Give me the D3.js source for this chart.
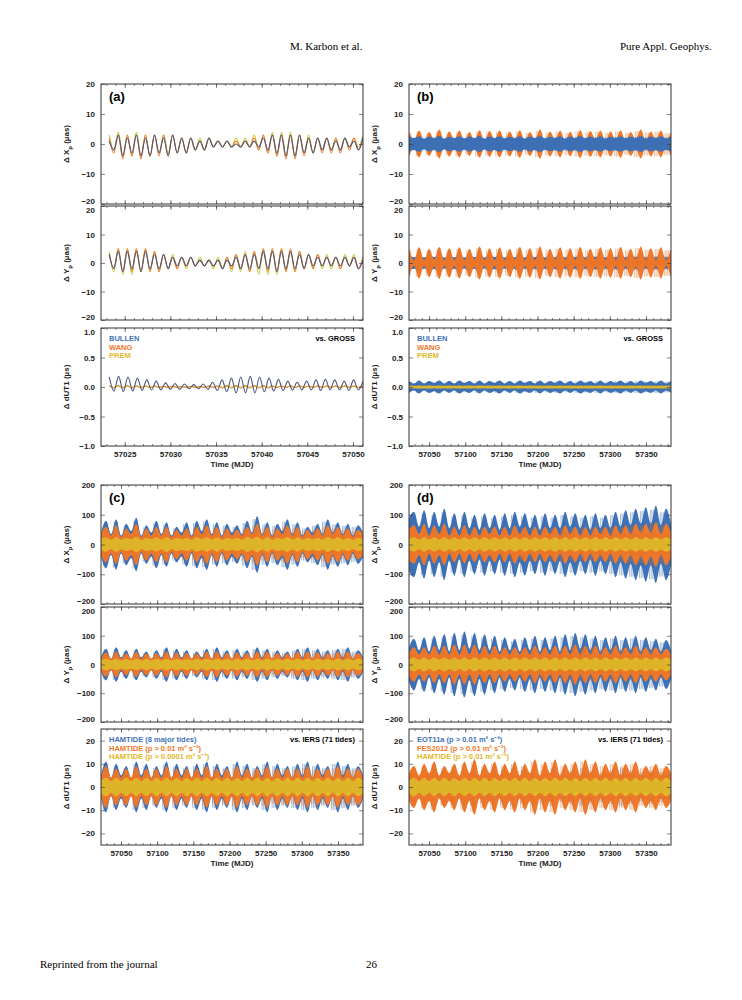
<!DOCTYPE html>
<html><head><meta charset="utf-8">
<script src="https://cdn.jsdelivr.net/npm/d3@7"></script>
<style>body{margin:0;background:#fff}text{font-family:"Liberation Sans",Arial,sans-serif}</style>
</head><body>
<script>
// ---- data ----
let seriesNames = ["BULLEN","WANG","PREM"];
let tideNamesC = ["HAMTIDE (8 major tides)","HAMTIDE (p > 0.01 m² s⁻²)","HAMTIDE (p > 0.0001 m² s⁻²)"];
let tideNamesD = ["EOT11a (p > 0.01 m² s⁻²)","FES2012 (p > 0.01 m² s⁻²)","HAMTIDE (p > 0.01 m² s⁻²)"];
let ticksA = [57025,57030,57035,57040,57045,57050];
let ticksLong = [57050,57100,57150,57200,57250,57300,57350];

// panel (a): alternating peak/trough values, evenly spaced 57023.3 .. 57051
let aXb=[1,-2,3,-4,2,-3,3,-4,2,-4,3,-3,2,-4,3,-3,2,-3,2,-2,1,-2,2,-1,1,-1,1,-1,0,-1,1,-1,1,-1,2,-2,3,-3,3,-4,3,-4,3,-3,2,-3,2,-2,2,-2,1,-2,2,-1,1,-2,2];
let aXw=[2,-3,3,-5,3,-4,3,-5,3,-4,3,-4,3,-4,3,-3,2,-3,2,-2,1,-2,2,-1,1,-1,1,-1,1,-1,1,-1,2,-2,3,-3,3,-4,3,-5,3,-5,3,-4,2,-3,2,-3,2,-3,2,-3,2,-2,2,-2,2];
let aXp=[3,-2,4,-4,3,-4,4,-4,3,-4,3,-3,3,-3,3,-3,2,-3,2,-2,2,-2,2,-1,1,-1,1,-1,2,-1,2,-1,3,-2,3,-3,4,-4,4,-4,4,-4,3,-3,3,-3,2,-2,2,-2,2,-2,2,-1,2,-1,3];
let aYb=[3,-2,4,-3,4,-2,4,-3,4,-2,3,-2,3,-2,2,-1,2,-1,2,-1,1,-1,1,-1,1,-2,1,-1,2,-2,3,-2,3,-2,4,-2,4,-3,4,-2,4,-2,3,-2,3,-1,2,-1,2,-1,2,-1,2,-1,2,-2,1];
let aYw=[3,-2,5,-3,5,-3,5,-3,5,-3,4,-3,3,-2,2,-2,2,-1,2,-1,1,-1,1,-1,1,-2,2,-2,3,-2,3,-3,4,-2,5,-3,5,-3,5,-3,5,-3,4,-2,3,-2,3,-1,2,-1,2,-2,2,-1,2,-2,2];
let aYp=[4,-3,5,-4,5,-4,5,-3,5,-3,4,-3,3,-2,3,-2,2,-2,2,-1,2,-1,1,-2,2,-2,2,-3,3,-3,4,-3,4,-4,5,-4,5,-4,5,-3,4,-3,4,-2,3,-2,3,-2,3,-2,2,-2,3,-1,3,-2,2];
let aUb=[0.17,-0.07,0.18,-0.08,0.17,-0.07,0.15,-0.06,0.12,-0.05,0.1,-0.05,0.07,-0.04,0.06,-0.04,0.05,-0.03,0.04,-0.03,0.05,-0.04,0.08,-0.06,0.12,-0.08,0.15,-0.1,0.17,-0.1,0.18,-0.1,0.17,-0.08,0.15,-0.07,0.13,-0.06,0.1,-0.05,0.08,-0.05,0.1,-0.05,0.12,-0.06,0.13,-0.05,0.12,-0.05,0.1,-0.06,0.12,-0.05,0.1];
let aUw=[0.03,-0.02,0.03,-0.02,0.03,-0.02,0.02,-0.02,0.02,-0.01,0.02,-0.01,0.01,-0.01,0.01,-0.01,0.01,-0.01,0.01,-0.01,0.01,-0.01,0.02,-0.01,0.02,-0.02,0.03,-0.02,0.03,-0.02,0.03,-0.02,0.03,-0.02,0.03,-0.02,0.02,-0.01,0.02,-0.01,0.02,-0.01,0.02,-0.01,0.02,-0.01,0.02,-0.01,0.02,-0.01,0.02,-0.01,0.02,-0.01,0.02,-0.01,0.02];
let aUp=[0.01,0,0.01,0,0.01,0,0.01,0,0.01,0,0.01,0,0.01,0,0.01,0,0.01,0,0.01,0,0.01,0,0.01,0,0.01,0,0.01,0,0.01,0,0.01,0,0.01,0,0.01,0,0.01,0,0.01,0,0.01,0,0.01,0,0.01,0,0.01,0,0.01,0,0.01,0,0.01,0,0.01,0,0.01];

// envelope half-widths, evenly spaced 57022.3 .. 57384.6
let bXblue=[2.5,2,2.6,1.8,2.5,2,2.7,1.8,2.4,2,2.6,1.9,2.5,2,2.7,1.8,2.5,2,2.6,1.9,2.4,2,2.6,1.8,2.5,2,2.7,1.9,2.4,2,2.6,1.8,2.5,2,2.7,1.9,2.5,2,2.6,1.8,2.4,2,2.6,1.9,2.5,2,2.7,1.8,2.5,2,2.6,1.9,2.5];
let bXorg=[4,1.5,4.5,1,4,1.5,4.8,1,4.2,1.5,4.5,1,4,1.2,4.6,1,4.3,1.5,4.5,1,4.2,1.4,4.6,1,4,1.5,4.8,1,4.2,1.5,4.5,1,4.1,1.3,4.7,1,4.3,1.5,4.5,1,4.2,1.4,4.6,1,4,1.5,4.8,1,4.2,1.5,4.5,1,4];
let bYblue=[2.6,2,2.8,1.9,2.6,2.1,2.8,1.9,2.5,2,2.7,1.9,2.6,2,2.8,1.9,2.6,2.1,2.7,1.9,2.5,2,2.8,1.9,2.6,2,2.8,1.9,2.5,2,2.7,1.9,2.6,2,2.8,1.9,2.6,2.1,2.7,1.9,2.5,2,2.8,1.9,2.6,2,2.8,1.9,2.5,2,2.7,1.9,2.6];
let bYorg=[5,1,5.5,1,5,1.2,5.6,1,5.2,1,5.5,1,5,1.2,5.8,1,5.2,1,5.5,1,5,1.2,5.6,1,5.2,1,5.8,1,5,1.2,5.5,1,5.2,1,5.6,1,5,1.2,5.5,1,5.2,1,5.6,1,5,1.2,5.8,1,5.2,1,5.5,1,5];
let bUblue=[0.1,0.06,0.11,0.06,0.1,0.07,0.11,0.06,0.1,0.06,0.11,0.07,0.1,0.06,0.11,0.06,0.1,0.07,0.11,0.06,0.1,0.06,0.11,0.07,0.1,0.06,0.11,0.06,0.1,0.07,0.11,0.06,0.1,0.06,0.11,0.07,0.1,0.06,0.11,0.06,0.1,0.07,0.11,0.06,0.1,0.06,0.11,0.07,0.1,0.06,0.11,0.06,0.1];
let bUorg=[0.025,0.02,0.025,0.02,0.025,0.02,0.025,0.02,0.025,0.02,0.025,0.02,0.025,0.02,0.025,0.02,0.025,0.02,0.025,0.02,0.025,0.02,0.025,0.02,0.025,0.02,0.025,0.02,0.025,0.02,0.025,0.02,0.025,0.02,0.025,0.02,0.025,0.02,0.025,0.02,0.025,0.02,0.025,0.02,0.025,0.02,0.025,0.02,0.025,0.02,0.025,0.02,0.025];

let cXblue=[40,80,35,85,30,70,45,90,30,65,40,80,35,75,30,60,40,75,30,80,45,85,35,75,30,70,40,65,35,80,40,95,35,75,30,70,45,85,35,75,30,60,40,70,35,85,40,75,35,70,30,65,40];
let cXorg=[35,60,30,65,25,55,35,70,25,55,30,60,30,60,25,50,30,55,25,60,35,65,30,60,25,55,30,50,30,60,35,70,30,60,25,55,35,65,30,60,25,50,30,55,30,65,35,60,30,55,25,50,35];
let cXyel=[18,24,15,25,16,22,18,26,15,22,18,24,16,25,15,22,18,22,16,24,18,25,16,24,15,22,18,22,16,25,18,26,16,24,15,22,18,25,16,24,15,22,18,22,16,25,18,24,16,22,15,22,18];
let cYblue=[25,55,20,60,25,50,20,55,25,45,20,50,25,60,20,55,25,50,20,45,25,55,20,60,25,50,20,55,25,50,20,60,25,55,20,50,25,45,20,55,25,60,20,55,25,50,20,55,25,60,20,50,25];
let cYorg=[20,42,20,45,20,38,20,44,20,38,20,40,20,45,20,42,20,40,20,38,20,44,20,45,20,40,20,43,20,40,20,45,20,44,20,40,20,38,20,44,20,45,20,43,20,40,20,44,20,45,20,40,20];
let cYyel=[14,20,14,20,14,19,14,20,14,19,14,20,14,20,14,20,14,19,14,20,14,20,14,20,14,19,14,20,14,20,14,20,14,20,14,19,14,20,14,20,14,20,14,20,14,19,14,20,14,20,14,20,14];
let cUblue=[5,11,4,10,5,9,4,11,5,10,4,9,5,11,4,10,5,9,4,10,5,11,4,10,5,9,4,11,5,10,4,9,5,11,4,10,5,9,4,10,5,11,4,10,5,9,4,11,5,10,4,9,5];
let cUorg=[4,9,4,8,4,8,4,9,4,8,4,8,4,9,4,8,4,8,4,8,4,9,4,8,4,8,4,9,4,8,4,8,4,9,4,8,4,8,4,8,4,9,4,8,4,8,4,9,4,8,4,8,4];
let cUyel=[2.5,4,2.5,4,2.5,4,2.5,4,2.5,4,2.5,4,2.5,4,2.5,4,2.5,4,2.5,4,2.5,4,2.5,4,2.5,4,2.5,4,2.5,4,2.5,4,2.5,4,2.5,4,2.5,4,2.5,4,2.5,4,2.5,4,2.5,4,2.5,4,2.5,4,2.5,4,2.5];

let dXblue=[90,110,60,115,55,110,60,120,55,105,50,110,55,100,50,105,55,100,50,105,55,110,60,105,55,100,50,105,55,100,55,110,60,105,55,100,50,105,55,100,55,110,60,115,65,120,70,125,70,130,65,120,70];
let dXorg=[50,65,35,70,30,65,35,70,30,60,30,65,30,60,30,60,35,60,30,60,30,65,35,60,30,60,30,60,35,60,30,65,35,60,30,60,30,60,35,60,30,65,35,65,35,70,40,70,40,75,35,70,40];
let dXyel=[18,24,16,24,16,24,16,24,16,24,16,24,16,24,16,24,16,24,16,24,16,24,16,24,16,24,16,24,16,24,16,24,16,24,16,24,16,24,16,24,16,24,16,24,16,24,16,24,16,24,16,24,16];
let dYblue=[60,90,50,95,45,100,50,105,45,110,50,115,55,110,50,105,50,100,45,95,50,90,45,95,50,100,45,95,50,100,45,105,50,110,55,105,50,100,45,95,50,100,45,95,50,100,45,95,50,90,45,85,50];
let dYorg=[40,60,35,60,35,65,35,65,35,70,35,70,35,70,35,65,35,65,35,60,35,60,35,60,35,65,35,60,35,65,35,65,35,70,35,65,35,65,35,60,35,65,35,60,35,65,35,60,35,60,35,55,35];
let dYyel=[16,24,16,24,16,24,16,24,16,24,16,24,16,24,16,24,16,24,16,24,16,24,16,24,16,24,16,24,16,24,16,24,16,24,16,24,16,24,16,24,16,24,16,24,16,24,16,24,16,24,16,24,16];
let dUblue=[5,8,4,7,5,9,4,8,5,7,4,8,5,9,4,8,5,7,4,8,5,9,4,8,5,7,4,8,5,9,4,7,5,8,4,9,5,8,4,7,5,8,4,9,5,8,4,7,5,8,4,7,5];
let dUorg=[6,9,5,10,6,11,5,9,6,10,5,11,6,12,5,10,6,11,5,10,6,11,5,10,6,12,5,11,6,12,5,10,6,11,5,12,6,11,5,10,6,11,5,10,6,11,5,9,6,10,5,9,6];
let dUyel=[2.5,4,2.5,4,2.5,4,2.5,4,2.5,4,2.5,4,2.5,4,2.5,4,2.5,4,2.5,4,2.5,4,2.5,4,2.5,4,2.5,4,2.5,4,2.5,4,2.5,4,2.5,4,2.5,4,2.5,4,2.5,4,2.5,4,2.5,4,2.5,4,2.5,4,2.5,4,2.5];

// ---- drawing ----
let BLUE="#3f73b8", ORG="#f0782a", YEL="#e3b82a", LINEB="#4b5680";
let svg = d3.select("body").append("svg").attr("width",742).attr("height",1000);

svg.append("text").attr("x",290).attr("y",50).attr("font-size",11).style("font-family","Liberation Serif").text("M. Karbon et al.");
svg.append("text").attr("x",620).attr("y",50).attr("font-size",11).style("font-family","Liberation Serif").text("Pure Appl. Geophys.");
svg.append("text").attr("x",40).attr("y",968).attr("font-size",11).style("font-family","Liberation Serif").text("Reprinted from the journal");
svg.append("text").attr("x",366).attr("y",968).attr("font-size",11).style("font-family","Liberation Serif").text("26");

let colA = {x0:101,x1:363}, colB = {x0:409,x1:671};
let rowsTop = [[84,204],[206,320],[328,446]], rowsBot = [[485,604],[607,722],[729,845]];

function panel(col, row, xdom, ydom, yticks, yfmt, label, xticks, showX, squeeze){
  let x = d3.scaleLinear().domain(xdom).range([col.x0,col.x1]);
  let y = d3.scaleLinear().domain(ydom).range([row[1],row[0]]);
  let g = svg.append("g");
  let clip = "c"+Math.round(col.x0)+"_"+row[0];
  svg.append("clipPath").attr("id",clip).append("rect").attr("x",col.x0).attr("y",row[0]).attr("width",col.x1-col.x0).attr("height",row[1]-row[0]);
  let plot = g.append("g").attr("clip-path","url(#"+clip+")");
  let ax = g.append("g");
  let f = d3.format(yfmt);
  let ya = ax.append("g").attr("transform","translate("+col.x0+",0)")
    .call(d3.axisLeft(y).tickValues(yticks).tickSize(-4).tickPadding(6).tickFormat(d=> d<0? "−"+f(Math.abs(d)) : f(d)))
    .call(a=>a.select(".domain").remove());
  // stacked panels: nudge edge labels apart
  if(squeeze){
    ya.selectAll(".tick").filter(d=>d===ydom[0] && squeeze.bottom).select("text").attr("dy","-0.05em");
    ya.selectAll(".tick").filter(d=>d===ydom[1] && squeeze.top).select("text").attr("dy","0.75em");
  }
  ax.append("g").attr("transform","translate("+col.x1+",0)")
    .call(d3.axisRight(y).tickValues(yticks).tickSize(-4).tickFormat(""))
    .call(a=>a.select(".domain").remove());
  let mstep = (xdom[1]-xdom[0])>100?10:1;
  let minor = d3.range(Math.ceil(xdom[0]/mstep)*mstep, xdom[1], mstep);
  [row[0],row[1]].forEach((yy,k)=>{
    ax.append("g").attr("transform","translate(0,"+yy+")")
      .call((k?d3.axisBottom(x):d3.axisTop(x)).tickValues(minor).tickSize(-2).tickFormat(""))
      .call(a=>a.select(".domain").remove());
    ax.append("g").attr("transform","translate(0,"+yy+")")
      .call((k?d3.axisBottom(x):d3.axisTop(x)).tickValues(xticks).tickSize(-4).tickPadding(5).tickFormat(k&&showX?d3.format("d"):""))
      .call(a=>a.select(".domain").remove());
  });
  ax.selectAll("text").attr("font-size",8).attr("font-weight","bold").attr("fill","#222");
  ax.selectAll("line").attr("stroke","#333").attr("stroke-width",0.6);
  g.append("rect").attr("x",col.x0).attr("y",row[0]).attr("width",col.x1-col.x0).attr("height",row[1]-row[0])
    .attr("fill","none").attr("stroke","#333").attr("stroke-width",1);
  let lab = g.append("text").attr("transform","translate("+(col.x0-32)+","+((row[0]+row[1])/2)+") rotate(-90)")
    .attr("text-anchor","middle").attr("font-size",8).attr("font-weight","bold").attr("fill","#222");
  lab.append("tspan").text("Δ "+label[0]);
  if(label[1]) lab.append("tspan").attr("baseline-shift","sub").attr("font-size",6).text(label[1]);
  lab.append("tspan").text(" "+label[2]);
  if(showX) g.append("text").attr("x",(col.x0+col.x1)/2).attr("y",row[1]+21).attr("text-anchor","middle")
    .attr("font-size",8).attr("font-weight","bold").attr("fill","#222").text("Time (MJD)");
  return {x,y,plot,g};
}

function lineSeries(p, arr, color, t0, t1, w){
  let step = (t1-t0)/(arr.length-1);
  p.plot.append("path").datum(arr).attr("fill","none").attr("stroke",color).attr("stroke-width",w)
    .attr("d", d3.line().x((d,i)=>p.x(t0+i*step)).y(d=>p.y(d)).curve(d3.curveCatmullRom));
}
function band(p, arr, color, t0, t1){
  let step = (t1-t0)/(arr.length-1);
  p.plot.append("path").datum(arr).attr("fill",color)
    .attr("d", d3.area().x((d,i)=>p.x(t0+i*step)).y0(d=>p.y(-d)).y1(d=>p.y(d)).curve(d3.curveMonotoneX));
  // dense oscillation texture
  let n = arr.length*6;
  let pts = d3.range(n).map(k=>{ let t = t0+k*(t1-t0)/(n-1); let a = arr[Math.min(arr.length-1, Math.round(k/6))]; return [t, (k%2?-1:1)*a*0.9]; });
  p.plot.append("path").datum(pts).attr("fill","none").attr("stroke",d3.color(color).darker(0.25)).attr("stroke-width",0.5).attr("opacity",0.5)
    .attr("d", d3.line().x(d=>p.x(d[0])).y(d=>p.y(d[1])));
}
function panelLabel(p, col, row, s){
  p.g.append("text").attr("x",col.x0+8).attr("y",row[0]+17).attr("font-size",13).attr("font-weight","bold").text(s);
}
function legend(p, col, row, names, right){
  [BLUE,ORG,YEL].forEach((c,i)=>p.g.append("text").attr("x",col.x0+8).attr("y",row[0]+13+i*8.5)
    .attr("font-size",7.5).attr("font-weight","bold").attr("fill",c).text(names[i]));
  p.g.append("text").attr("x",col.x1-8).attr("y",row[0]+13).attr("text-anchor","end")
    .attr("font-size",7.5).attr("font-weight","bold").text(right);
}

let domA=[57022.4,57051.1], domL=[57022.3,57384.6];
let tA0=57023.3, tA1=57051.1;
let t10=[-20,-10,0,10,20], tu=[-1,-0.5,0,0.5,1], t100=[-200,-100,0,100,200], t20=[-20,-10,0,10,20];
let sqTop={bottom:true}, sqMid={top:true,bottom:true}, sqBot={top:true};

// (a)
let p = panel(colA,rowsTop[0],domA,[-20,20],t10,"d",["X","p","(µas)"],ticksA,false,sqTop);
lineSeries(p,aXp,"#c8c83a",tA0,tA1,1.1); lineSeries(p,aXw,ORG,tA0,tA1,1.1); lineSeries(p,aXb,LINEB,tA0,tA1,1.1);
panelLabel(p,colA,rowsTop[0],"(a)");
p = panel(colA,rowsTop[1],domA,[-20,20],t10,"d",["Y","p","(µas)"],ticksA,false,sqMid);
lineSeries(p,aYp,"#c8c83a",tA0,tA1,1.1); lineSeries(p,aYw,ORG,tA0,tA1,1.1); lineSeries(p,aYb,LINEB,tA0,tA1,1.1);
p = panel(colA,rowsTop[2],domA,[-1,1],tu,".1f",["dUT1","","(µs)"],ticksA,true,sqBot);
lineSeries(p,aUp,"#c8c83a",tA0,tA1,1.1); lineSeries(p,aUw,ORG,tA0,tA1,1); lineSeries(p,aUb,LINEB,tA0,tA1,1.1);
legend(p,colA,rowsTop[2],seriesNames,"vs. GROSS");

// (b)
let L0=domL[0], L1=domL[1];
p = panel(colB,rowsTop[0],domL,[-20,20],t10,"d",["X","p","(µas)"],ticksLong,false,sqTop);
band(p,bXorg,ORG,L0,L1); band(p,bXblue,BLUE,L0,L1); panelLabel(p,colB,rowsTop[0],"(b)");
p = panel(colB,rowsTop[1],domL,[-20,20],t10,"d",["Y","p","(µas)"],ticksLong,false,sqMid);
band(p,bYblue,BLUE,L0,L1); band(p,bYorg,ORG,L0,L1);
p = panel(colB,rowsTop[2],domL,[-1,1],tu,".1f",["dUT1","","(µs)"],ticksLong,true,sqBot);
band(p,bUblue,BLUE,L0,L1); band(p,bUorg,YEL,L0,L1);
legend(p,colB,rowsTop[2],seriesNames,"vs. GROSS");

// (c)
p = panel(colA,rowsBot[0],domL,[-200,200],t100,"d",["X","p","(µas)"],ticksLong,false,sqTop);
band(p,cXblue,BLUE,L0,L1); band(p,cXorg,ORG,L0,L1); band(p,cXyel,YEL,L0,L1); panelLabel(p,colA,rowsBot[0],"(c)");
p = panel(colA,rowsBot[1],domL,[-200,200],t100,"d",["Y","p","(µas)"],ticksLong,false,sqMid);
band(p,cYblue,BLUE,L0,L1); band(p,cYorg,ORG,L0,L1); band(p,cYyel,YEL,L0,L1);
p = panel(colA,rowsBot[2],domL,[-25,25],t20,"d",["dUT1","","(µs)"],ticksLong,true,null);
band(p,cUblue,BLUE,L0,L1); band(p,cUorg,ORG,L0,L1); band(p,cUyel,YEL,L0,L1);
legend(p,colA,rowsBot[2],tideNamesC,"vs. IERS (71 tides)");

// (d)
p = panel(colB,rowsBot[0],domL,[-200,200],t100,"d",["X","p","(µas)"],ticksLong,false,sqTop);
band(p,dXblue,BLUE,L0,L1); band(p,dXorg,ORG,L0,L1); band(p,dXyel,YEL,L0,L1); panelLabel(p,colB,rowsBot[0],"(d)");
p = panel(colB,rowsBot[1],domL,[-200,200],t100,"d",["Y","p","(µas)"],ticksLong,false,sqMid);
band(p,dYblue,BLUE,L0,L1); band(p,dYorg,ORG,L0,L1); band(p,dYyel,YEL,L0,L1);
p = panel(colB,rowsBot[2],domL,[-25,25],t20,"d",["dUT1","","(µs)"],ticksLong,true,null);
band(p,dUblue,BLUE,L0,L1); band(p,dUorg,ORG,L0,L1); band(p,dUyel,YEL,L0,L1);
legend(p,colB,rowsBot[2],tideNamesD,"vs. IERS (71 tides)");
</script>
</body></html>
